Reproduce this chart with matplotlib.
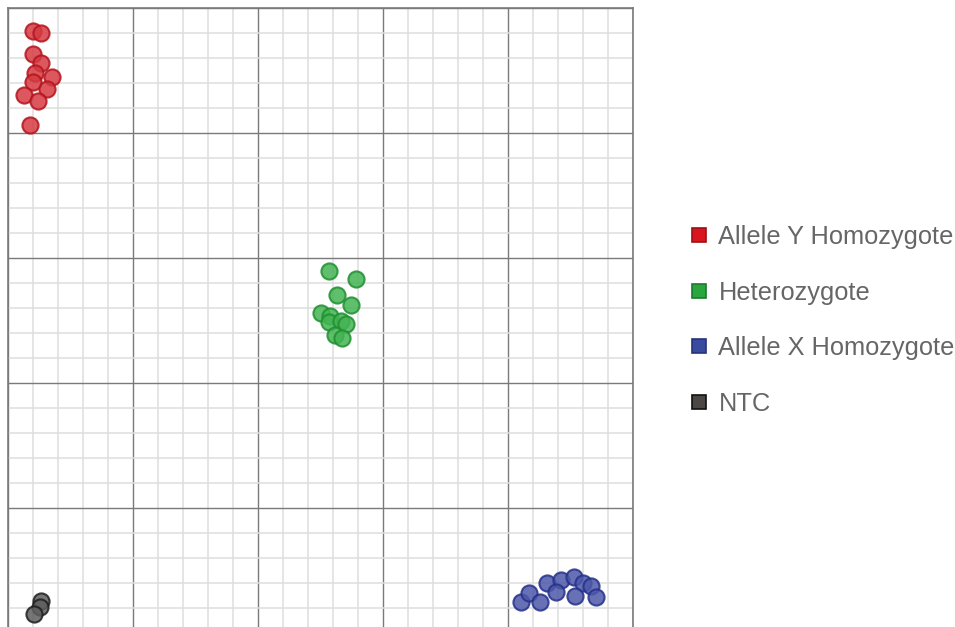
# genotype cluster plot
import matplotlib
matplotlib.use('Agg')
import matplotlib.pyplot as plt
from matplotlib.lines import Line2D
import numpy as np

plt.rcParams['font.family'] = ['Liberation Sans', 'DejaVu Sans']

# data (normalised fluorescence, allele X on x, allele Y on y)
allele_y_x = [0.040, 0.053, 0.040, 0.053, 0.043, 0.070, 0.040, 0.062, 0.026, 0.048, 0.035]
allele_y_y = [0.963, 0.960, 0.926, 0.912, 0.896, 0.890, 0.882, 0.870, 0.861, 0.852, 0.813]

het_x = [0.514, 0.557, 0.526, 0.549, 0.501, 0.515, 0.514, 0.533, 0.541, 0.523, 0.534]
het_y = [0.579, 0.566, 0.541, 0.525, 0.512, 0.507, 0.498, 0.499, 0.494, 0.477, 0.472]

allele_x_x = [0.821, 0.834, 0.851, 0.863, 0.885, 0.876, 0.906, 0.920, 0.932, 0.907, 0.940]
allele_x_y = [0.050, 0.064, 0.049, 0.080, 0.085, 0.066, 0.090, 0.080, 0.075, 0.059, 0.057]

ntc_x = [0.053, 0.051, 0.042]
ntc_y = [0.051, 0.042, 0.030]

labels = ['Allele Y Homozygote', 'Heterozygote', 'Allele X Homozygote', 'NTC']
faces = ['#d63a42', '#43b453', '#4d58a8', '#5e5e5e']
edges = ['#b3141d', '#1f8f30', '#25318a', '#1e1e1e']
legend_faces = ['#d9161e', '#2aa63e', '#3a4a9e', '#4a4744']
legend_edges = ['#9c1016', '#1d7a2c', '#28337a', '#111111']

fig = plt.figure(figsize=(9.55, 6.27), dpi=100)
ax = fig.add_axes([8 / 955, -6 / 627, 625 / 955, 625 / 627])

# grid
ax.set_xlim(0, 1)
ax.set_ylim(0, 1)
ax.set_xticks(np.arange(0, 1.01, 0.2))
ax.set_yticks(np.arange(0, 1.01, 0.2))
ax.set_xticks(np.arange(0, 1.01, 0.04), minor=True)
ax.set_yticks(np.arange(0, 1.01, 0.04), minor=True)
ax.grid(which='minor', color='#dedede', linewidth=1.1, zorder=0)
ax.grid(which='major', color='#7a7a7a', linewidth=1.0, zorder=0)
ax.tick_params(which='both', length=0, labelleft=False, labelbottom=False)
for s in ax.spines.values():
    s.set_color('#7a7a7a')
    s.set_linewidth(1.2)
ax.set_axisbelow(True)

series = [(allele_y_x, allele_y_y), (het_x, het_y), (allele_x_x, allele_x_y), (ntc_x, ntc_y)]
for (xs, ys), fc, ec in zip(series, faces, edges):
    ax.scatter(xs, ys, s=135, facecolors=fc, edgecolors=ec, linewidths=1.5,
               alpha=0.85, zorder=3, clip_on=False)

handles = [Line2D([], [], linestyle='none', marker='s', markersize=9.5,
                  markerfacecolor=f, markeredgecolor=e, markeredgewidth=1.2)
           for f, e in zip(legend_faces, legend_edges)]
leg = fig.legend(handles, labels, loc='upper left', bbox_to_anchor=(679 / 955, 1 - 215 / 627),
                 frameon=False, fontsize=18.3, labelspacing=1.24, handlelength=0.75,
                 handletextpad=0.4, borderaxespad=0)
for t in leg.get_texts():
    t.set_color('#666666')

fig.savefig('out.png', dpi=100)
